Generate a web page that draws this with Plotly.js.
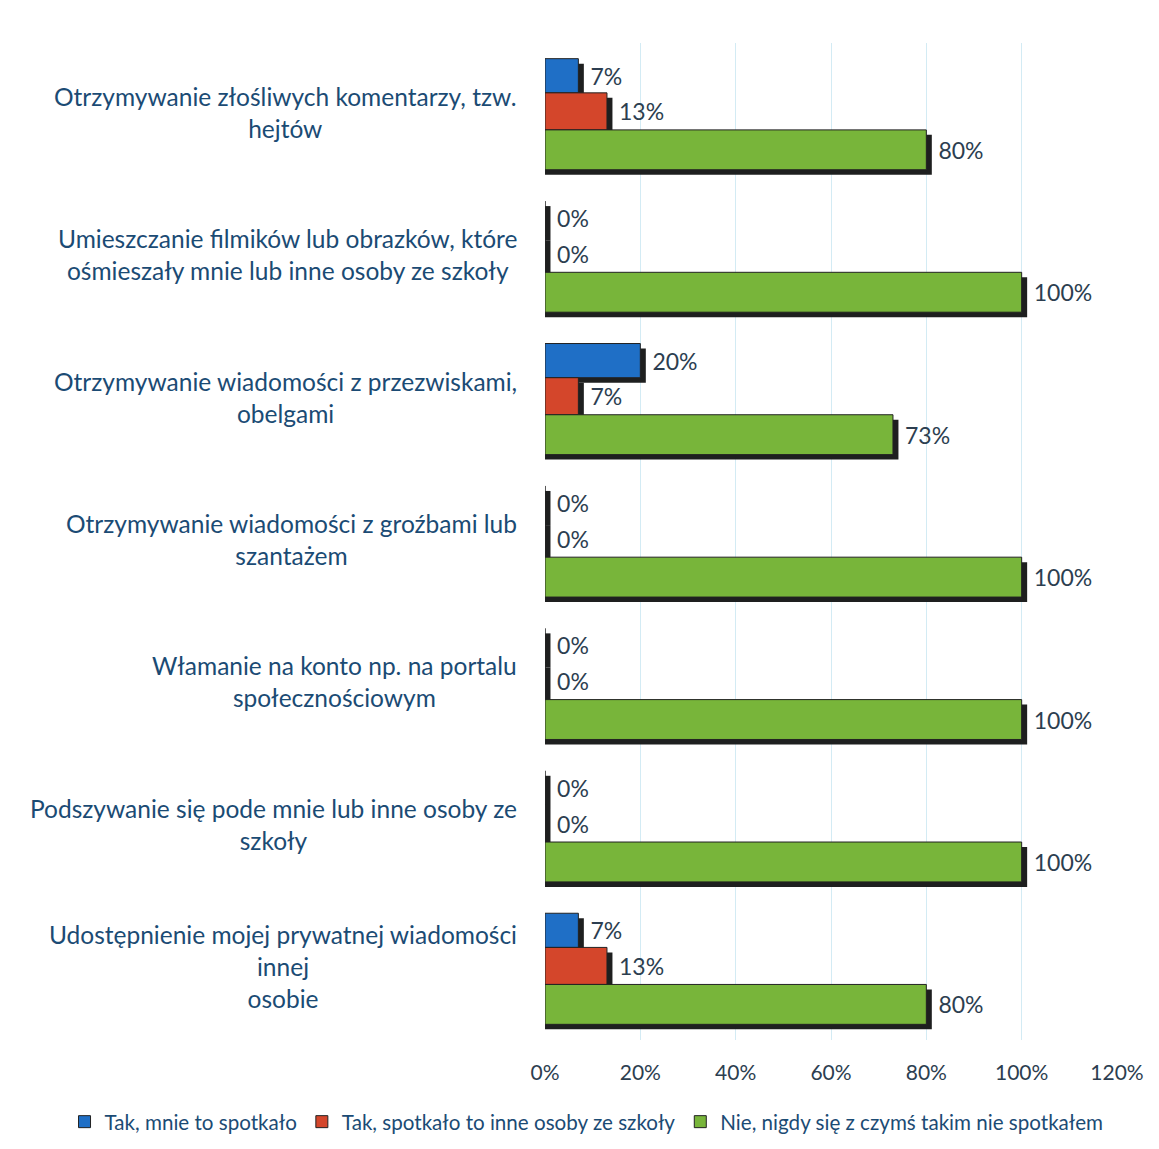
<!DOCTYPE html>
<html><head><meta charset="utf-8">
<script src="https://cdn.plot.ly/plotly-3.0.1.min.js"></script>
<style>html,body{margin:0;padding:0;background:#fff}</style>
</head><body>
<div id="chart" style="width:1159px;height:1149px"></div>
<script>
const categories = [
  "Otrzymywanie złośliwych komentarzy, tzw.<br>hejtów",
  "Umieszczanie filmików lub obrazków, które<br>ośmieszały mnie lub inne osoby ze szkoły",
  "Otrzymywanie wiadomości z przezwiskami,<br>obelgami",
  "Otrzymywanie wiadomości z groźbami lub<br>szantażem",
  "Włamanie na konto np. na portalu<br>społecznościowym",
  "Podszywanie się pode mnie lub inne osoby ze<br>szkoły",
  "Udostępnienie mojej prywatnej wiadomości<br>innej<br>osobie"
];
const seriesNames = ["Tak, mnie to spotkało", "Tak, spotkało to inne osoby ze szkoły", "Nie, nigdy się z czymś takim nie spotkałem"];
const takMnie = [7, 0, 20, 0, 0, 0, 7];
const takInne = [13, 0, 7, 0, 0, 0, 13];
const nieNigdy = [80, 100, 73, 100, 100, 100, 80];
const xTicks = [0, 20, 40, 60, 80, 100, 120];

const colors = ["#1f6fc6", "#d4462b", "#78b53a"];
const valColor = "#2c3e50";
const labelColor = "#1b4b74";
const font = "Lato, 'Open Sans', sans-serif";

// bar placement inside each category band (style only)
const barOffset = [-0.39, -0.15, 0.11];
const barWidth = [0.24, 0.26, 0.28];
const shadowDx = 1.15;   // shadow shift, in % units
const shadowDy = 0.035;  // shadow shift, in category units
const labelDx = 1.9;     // gap between bar end and value label, in % units

const ids = categories.map((c, i) => "c" + i);
const series = [takMnie, takInne, nieNigdy];

const shadows = series.map((vals, k) => ({
  type: "bar", orientation: "h", showlegend: false, hoverinfo: "skip",
  y: ids, x: vals.map(v => v + shadowDx),
  offset: barOffset[k] + shadowDy, width: barWidth[k],
  marker: {color: "#1e1f1f", line: {width: 0}},
  textposition: "none"
}));

const bars = series.map((vals, k) => ({
  type: "bar", orientation: "h", name: seriesNames[k],
  y: ids, x: vals,
  offset: barOffset[k], width: barWidth[k],
  marker: {color: colors[k], line: {color: "#222", width: 1}},
  textposition: "none", hoverinfo: "x+name"
}));

const labels = series.map((vals, k) => ({
  type: "bar", orientation: "h", showlegend: false, hoverinfo: "skip",
  y: ids, x: vals.map(v => v + labelDx),
  offset: barOffset[k], width: barWidth[k],
  marker: {color: "rgba(0,0,0,0)", line: {width: 0}},
  text: vals.map(v => v + "%"), textposition: "outside", cliponaxis: false,
  textfont: {family: font, size: 23, color: valColor}
}));

const annotations = categories.map((c, i) => ({
  xref: "paper", yref: "y", x: 0, y: ids[i],
  xanchor: "right", yanchor: "middle", xshift: -26, yshift: 2,
  align: "center", showarrow: false, text: c,
  font: {family: font, size: 24.5, color: labelColor}
}));

const layout = {
  width: 1159, height: 1149,
  margin: {l: 545, r: 42, t: 43, b: 109, autoexpand: false},
  paper_bgcolor: "#fff", plot_bgcolor: "#fff",
  barmode: "overlay",
  showlegend: true,
  legend: {orientation: "h", xref: "paper", yref: "paper",
    x: -0.84, xanchor: "left", y: -0.082, yanchor: "middle", itemwidth: 30,
    font: {family: font, size: 20.6, color: labelColor}, traceorder: "normal"},
  xaxis: {range: [0, 120], tickvals: xTicks, ticktext: xTicks.map(v => v + "%"),
    showgrid: true, gridcolor: "#d3ebf4", gridwidth: 1, zeroline: false, showline: false,
    ticks: "outside", ticklen: 14, tickcolor: "rgba(0,0,0,0)",
    tickfont: {family: font, size: 21, color: valColor}},
  yaxis: {autorange: "reversed", showticklabels: false, ticks: "", showgrid: false,
    zeroline: false, showline: false, type: "category"},
  annotations: annotations
};
Plotly.newPlot("chart", shadows.concat(bars, labels), layout, {displayModeBar: false, staticPlot: true});
</script>
</body></html>
